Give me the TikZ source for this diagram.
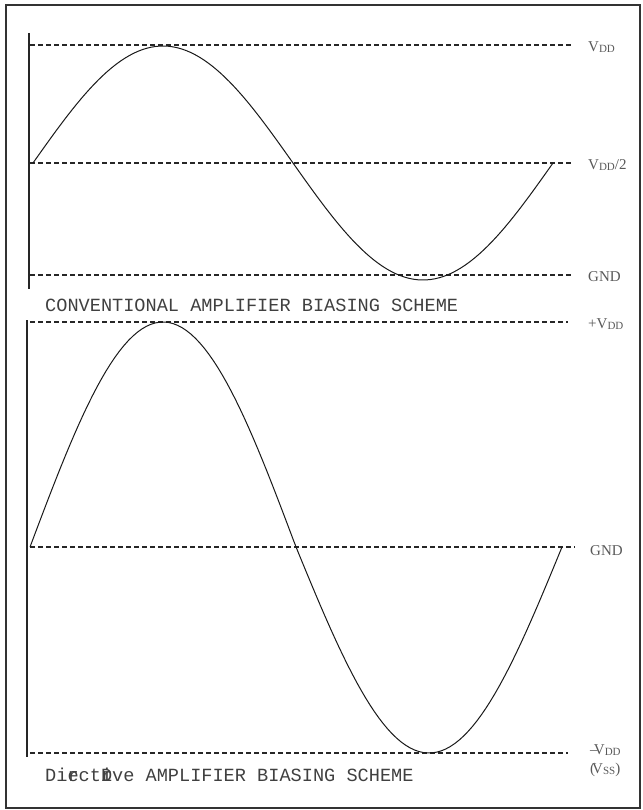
\documentclass[tikz,border=0pt]{standalone}
\usepackage{fontspec}
\setmainfont{Liberation Serif}
\setmonofont{Liberation Mono}
\tikzset{axis/.style = {line width = 2.4pt, black!85}}
\tikzset{level/.style = {dash pattern = on 5pt off 3pt, black!85, line width = 1.1pt}}
\tikzset{wave/.style = {line width = 1pt, black!90}}
\tikzset{rail/.style = {anchor = west, text = black!65, inner sep = 0pt, font = \fontsize{15}{18}\selectfont}}
\tikzset{caption/.style = {anchor = west, text = black!75, inner sep = 0pt, font = \ttfamily\fontsize{18.6}{20}\selectfont}}
\newcommand{\railsub}[1]{\raisebox{-0.2ex}{\fontsize{11}{12}\selectfont #1}}

\begin{document}
\begin{tikzpicture}[x = 1pt, y = -1pt]
			\useasboundingbox (0, 0) rectangle (642, 810);
			\draw[line width = 1.2pt, black!80] (6, 5) rectangle (640, 808);

			% conventional scheme
			\coordinate (ta) at (29, 33);
			\coordinate (tb) at (29, 289);
			\coordinate (tvl) at (30, 45);
			\coordinate (tvr) at (572, 45);
			\coordinate (thl) at (30, 163);
			\coordinate (thr) at (572, 163);
			\coordinate (tgl) at (30, 275);
			\coordinate (tgr) at (572, 275);

			\draw[axis] (ta) -- (tb);
			\draw[level] (tvl) -- (tvr);
			\draw[level] (thl) -- (thr);
			\draw[level] (tgl) -- (tgr);
			\draw[wave] plot[domain = 0:360, samples = 120] ({33 + (\x/360)*520}, {163 - 117*sin(\x)});

			\node[rail] (tv) at (588, 47) {V\railsub{DD}};
			\node[rail] (th) at (588, 165) {V\railsub{DD}/2};
			\node[rail] (tg) at (588, 277) {GND};
			\node[caption] (tcap) at (45, 305) {CONVENTIONAL AMPLIFIER BIASING SCHEME};

			% direct drive scheme
			\coordinate (ba) at (27, 320);
			\coordinate (bb) at (27, 757);
			\coordinate (bvl) at (30, 322);
			\coordinate (bvr) at (568, 322);
			\coordinate (bgl) at (30, 547);
			\coordinate (bgr) at (575, 547);
			\coordinate (bnl) at (30, 753);
			\coordinate (bnr) at (568, 753);

			\draw[axis] (ba) -- (bb);
			\draw[level] (bvl) -- (bvr);
			\draw[level] (bgl) -- (bgr);
			\draw[level] (bnl) -- (bnr);
			\draw[wave] plot[domain = 0:360, samples = 120] ({30 + (\x/360)*532}, {547 - sin(\x)*(\x < 180 ? 225 : 206)});

			\node[rail] (bv) at (588, 324) {+V\railsub{DD}};
			\node[rail] (bg) at (590, 551) {GND};
			\node[rail] (bn) at (590, 750) {--\kern-0.25em V\railsub{DD}};
			\node[rail] (bs) at (590, 770) {(\kern-0.2em V\railsub{SS})};
			\node[caption] (bcap) at (45, 775) {Di\rlap{r}ect\rlap{D}\rlap{r}ive AMPLIFIER BIASING SCHEME};
		\end{tikzpicture}
\end{document}
